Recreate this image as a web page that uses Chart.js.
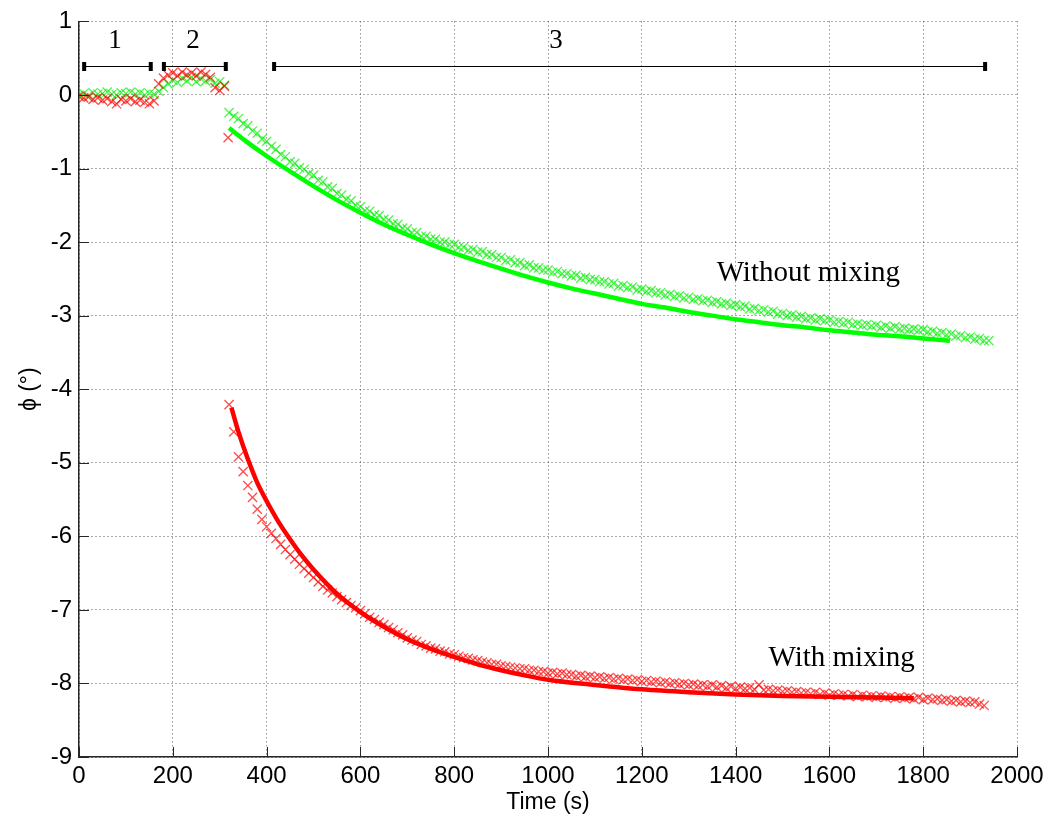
<!DOCTYPE html>
<html lang="en">
<head>
    <meta charset="UTF-8">
    <title>Phase angle vs time</title>
    <script src="https://cdn.jsdelivr.net/npm/chart.js@4.4.1/dist/chart.umd.min.js"></script>
    <style>
        body { margin: 0; background: #fff; }
        canvas { display: block; }
    </style>
</head>
<body>
<canvas id="myChart" width="1057" height="828"></canvas>

<script>
    // phases 1 and 2 (before the decay), sampled every 10 s
    var timeEarly = [0, 10, 20, 30, 40, 50, 60, 70, 80, 90, 100, 110, 120, 130, 140, 150,
      160, 170, 180, 190, 200, 210, 220, 230, 240, 250, 260, 270, 280, 290, 300, 310];
    var greenEarly = [0.00, 0.02, -0.01, 0.03, 0.01, 0.02, 0.04, 0.01, 0.00, 0.03, 0.02, 0.04, 0.01, 0.03, 0.00, 0.02,
      0.01, 0.05, 0.10, 0.15, 0.20, 0.17, 0.23, 0.19, 0.24, 0.18, 0.22, 0.19, 0.21, 0.16, 0.18, 0.13];
    var redEarly = [-0.02, -0.04, -0.03, -0.06, -0.04, -0.07, -0.05, -0.09, -0.12, -0.06, -0.08, -0.05, -0.09, -0.07, -0.10, -0.12,
      -0.08, 0.15, 0.23, 0.27, 0.30, 0.26, 0.31, 0.27, 0.30, 0.26, 0.31, 0.28, 0.24, 0.10, 0.06, 0.12];

    // phase 3
    var timeDecay = [320, 330, 340, 350, 360, 370, 380, 390, 400, 410,
      420, 430, 440, 450, 460, 470, 480, 490, 500, 510,
      520, 530, 540, 550, 560, 570, 580, 590, 600, 610,
      620, 630, 640, 650, 660, 670, 680, 690, 700, 710,
      720, 730, 740, 750, 760, 770, 780, 790, 800, 810,
      820, 830, 840, 850, 860, 870, 880, 890, 900, 910,
      920, 930, 940, 950, 960, 970, 980, 990, 1000, 1010,
      1020, 1030, 1040, 1050, 1060, 1070, 1080, 1090, 1100, 1110,
      1120, 1130, 1140, 1150, 1160, 1170, 1180, 1190, 1200, 1210,
      1220, 1230, 1240, 1250, 1260, 1270, 1280, 1290, 1300, 1310,
      1320, 1330, 1340, 1350, 1360, 1370, 1380, 1390, 1400, 1410,
      1420, 1430, 1440, 1450, 1460, 1470, 1480, 1490, 1500, 1510,
      1520, 1530, 1540, 1550, 1560, 1570, 1580, 1590, 1600, 1610,
      1620, 1630, 1640, 1650, 1660, 1670, 1680, 1690, 1700, 1710,
      1720, 1730, 1740, 1750, 1760, 1770, 1780, 1790, 1800, 1810,
      1820, 1830, 1840, 1850, 1860, 1870, 1880, 1890, 1900, 1910,
      1920, 1930, 1940];
    var greenDecay = [-0.24, -0.29, -0.32, -0.39, -0.42, -0.49, -0.52, -0.60, -0.63, -0.70,
      -0.74, -0.81, -0.84, -0.91, -0.93, -0.99, -1.01, -1.07, -1.09, -1.16,
      -1.18, -1.25, -1.27, -1.34, -1.36, -1.42, -1.44, -1.50, -1.52, -1.57,
      -1.58, -1.63, -1.64, -1.69, -1.70, -1.75, -1.76, -1.81, -1.82, -1.87,
      -1.87, -1.92, -1.92, -1.96, -1.96, -2.00, -2.00, -2.03, -2.03, -2.07,
      -2.07, -2.11, -2.10, -2.14, -2.13, -2.17, -2.17, -2.21, -2.21, -2.25,
      -2.24, -2.28, -2.28, -2.32, -2.31, -2.35, -2.35, -2.38, -2.38, -2.41,
      -2.40, -2.43, -2.43, -2.46, -2.45, -2.49, -2.48, -2.51, -2.51, -2.54,
      -2.54, -2.57, -2.56, -2.60, -2.59, -2.62, -2.61, -2.65, -2.64, -2.67,
      -2.66, -2.69, -2.69, -2.72, -2.71, -2.74, -2.73, -2.76, -2.75, -2.78,
      -2.77, -2.80, -2.79, -2.82, -2.81, -2.84, -2.83, -2.86, -2.85, -2.88,
      -2.87, -2.91, -2.90, -2.93, -2.92, -2.95, -2.94, -2.98, -2.97, -3.00,
      -2.99, -3.02, -3.01, -3.04, -3.03, -3.06, -3.04, -3.07, -3.06, -3.09,
      -3.08, -3.10, -3.09, -3.12, -3.11, -3.13, -3.12, -3.14, -3.13, -3.16,
      -3.14, -3.17, -3.15, -3.18, -3.17, -3.19, -3.18, -3.20, -3.19, -3.22,
      -3.21, -3.24, -3.23, -3.26, -3.25, -3.28, -3.27, -3.30, -3.29, -3.32,
      -3.31, -3.34, -3.34];
    var redDecay = [-4.21, -4.58, -4.92, -5.12, -5.31, -5.47, -5.63, -5.77, -5.87, -5.96,
      -6.03, -6.11, -6.18, -6.25, -6.31, -6.38, -6.44, -6.50, -6.56, -6.62,
      -6.68, -6.73, -6.77, -6.82, -6.86, -6.90, -6.94, -6.97, -7.01, -7.05,
      -7.10, -7.13, -7.17, -7.20, -7.24, -7.27, -7.31, -7.34, -7.38, -7.41,
      -7.43, -7.47, -7.49, -7.52, -7.53, -7.56, -7.57, -7.60, -7.61, -7.63,
      -7.65, -7.66, -7.68, -7.69, -7.71, -7.72, -7.74, -7.74, -7.76, -7.77,
      -7.78, -7.79, -7.80, -7.80, -7.82, -7.82, -7.84, -7.84, -7.86, -7.85,
      -7.87, -7.86, -7.88, -7.88, -7.90, -7.89, -7.91, -7.90, -7.92, -7.91,
      -7.93, -7.92, -7.94, -7.93, -7.95, -7.94, -7.96, -7.95, -7.97, -7.96,
      -7.98, -7.97, -7.99, -7.98, -8.00, -7.99, -8.01, -8.00, -8.02, -8.01,
      -8.03, -8.02, -8.04, -8.02, -8.05, -8.03, -8.06, -8.04, -8.07, -8.05,
      -8.07, -8.06, -8.08, -8.02, -8.09, -8.08, -8.10, -8.09, -8.11, -8.10,
      -8.12, -8.11, -8.13, -8.12, -8.14, -8.12, -8.15, -8.13, -8.16, -8.14,
      -8.16, -8.15, -8.17, -8.15, -8.18, -8.16, -8.18, -8.17, -8.19, -8.17,
      -8.19, -8.18, -8.20, -8.18, -8.20, -8.19, -8.21, -8.19, -8.22, -8.20,
      -8.22, -8.21, -8.23, -8.22, -8.24, -8.23, -8.25, -8.24, -8.26, -8.25,
      -8.28, -8.30, null];

    // stray red point at the start of phase 3
    var redOutlierTime = [318];
    var redOutlier = [-0.58];

    // fitted curves
    var fitGreenTime = [320, 350, 400, 450, 500, 550, 600, 650, 700, 750, 800, 850, 900, 950, 1000, 1050,
      1100, 1150, 1200, 1250, 1300, 1350, 1400, 1450, 1500, 1550, 1600, 1650, 1700, 1750, 1800, 1857];
    var fitGreen = [-0.45, -0.60, -0.83, -1.04, -1.24, -1.43, -1.60, -1.76, -1.90, -2.03, -2.15, -2.26, -2.36, -2.46, -2.55, -2.63,
      -2.70, -2.77, -2.84, -2.89, -2.95, -3.00, -3.05, -3.09, -3.13, -3.16, -3.20, -3.23, -3.26, -3.28, -3.31, -3.34];
    var fitRedTime = [325, 340, 360, 380, 400, 425, 450, 475, 500, 550, 600, 650, 700, 750, 800, 850,
      900, 950, 1000, 1100, 1200, 1300, 1400, 1500, 1600, 1700, 1780];
    var fitRed = [-4.25, -4.58, -4.95, -5.27, -5.52, -5.80, -6.04, -6.26, -6.45, -6.78, -7.03, -7.23, -7.40, -7.53, -7.64, -7.74,
      -7.82, -7.89, -7.95, -8.02, -8.08, -8.12, -8.15, -8.17, -8.18, -8.19, -8.20];

    // experiment phases
    var phaseLabels = ["1", "2", "3"];
    var phaseStart = [11, 181, 416];
    var phaseEnd = [153, 313, 1932];

    var xTicks = [0, 200, 400, 600, 800, 1000, 1200, 1400, 1600, 1800, 2000];
    var yTicks = [-9, -8, -7, -6, -5, -4, -3, -2, -1, 0, 1];

    function pts(xs, ys) {
      return xs.map(function (t, i) { return { x: t, y: ys[i] }; });
    }

    var sansFont = "'Liberation Sans', Arial, Helvetica, sans-serif";
    var serifFont = "'Liberation Serif', 'Times New Roman', serif";

    // inward ticks, phase bars and text labels
    var overlay = {
      id: 'overlay',
      afterDatasetsDraw: function (chart) {
        var ctx = chart.ctx, area = chart.chartArea;
        var xs = chart.scales.x, ys = chart.scales.y;
        ctx.save();
        ctx.strokeStyle = '#262626';
        ctx.lineWidth = 1;
        xTicks.forEach(function (v) {
          var px = Math.round(xs.getPixelForValue(v)) + 0.5;
          ctx.beginPath();
          ctx.moveTo(px, area.bottom);
          ctx.lineTo(px, area.bottom - 10);
          ctx.stroke();
        });
        yTicks.forEach(function (v) {
          var py = Math.round(ys.getPixelForValue(v)) + 0.5;
          ctx.beginPath();
          ctx.moveTo(area.left, py);
          ctx.lineTo(area.left + 10, py);
          ctx.stroke();
        });

        // phase bars
        var barY = Math.round(ys.getPixelForValue(0.4)) + 0.5;
        var labelT = [77, 243, 1017];
        ctx.strokeStyle = '#000';
        ctx.fillStyle = '#000';
        ctx.lineWidth = 1.2;
        for (var i = 0; i < phaseLabels.length; i++) {
          var x1 = xs.getPixelForValue(phaseStart[i]);
          var x2 = xs.getPixelForValue(phaseEnd[i]);
          ctx.beginPath();
          ctx.moveTo(x1, barY);
          ctx.lineTo(x2, barY);
          ctx.stroke();
          ctx.fillRect(x1 - 2, barY - 4.5, 4, 9);
          ctx.fillRect(x2 - 2, barY - 4.5, 4, 9);
          ctx.font = '27px ' + serifFont;
          ctx.textAlign = 'center';
          ctx.textBaseline = 'alphabetic';
          ctx.fillText(phaseLabels[i], xs.getPixelForValue(labelT[i]), ys.getPixelForValue(0.64));
        }

        ctx.font = '29px ' + serifFont;
        ctx.textAlign = 'center';
        ctx.fillText('Without mixing', xs.getPixelForValue(1555), ys.getPixelForValue(-2.53));
        ctx.fillText('With mixing', xs.getPixelForValue(1626), ys.getPixelForValue(-7.76));
        ctx.restore();
      }
    };

    var ctx = document.getElementById('myChart').getContext('2d');

    var myChart = new Chart(ctx, {
      type: 'scatter',
      data: {
        datasets: [
          {
            label: 'Fit without mixing',
            data: pts(fitGreenTime, fitGreen),
            showLine: true,
            borderColor: '#00ff00',
            borderWidth: 4.5,
            pointRadius: 0,
            cubicInterpolationMode: 'monotone',
            order: 0
          },
          {
            label: 'Fit with mixing',
            data: pts(fitRedTime, fitRed),
            showLine: true,
            borderColor: '#ff0000',
            borderWidth: 4.5,
            pointRadius: 0,
            cubicInterpolationMode: 'monotone',
            order: 0
          },
          {
            label: 'Without mixing',
            data: pts(timeEarly, greenEarly).concat(pts(timeDecay, greenDecay)),
            pointStyle: 'crossRot',
            pointRadius: 6.5,
            borderWidth: 1.3,
            borderColor: 'rgba(0, 240, 0, 0.7)',
            backgroundColor: 'rgba(0, 240, 0, 0.7)',
            order: 2
          },
          {
            label: 'With mixing',
            data: pts(timeEarly, redEarly).concat(pts(timeDecay, redDecay), pts(redOutlierTime, redOutlier)),
            pointStyle: 'crossRot',
            pointRadius: 6.5,
            borderWidth: 1.3,
            borderColor: 'rgba(255, 0, 0, 0.7)',
            backgroundColor: 'rgba(255, 0, 0, 0.7)',
            order: 1
          }
        ]
      },
      options: {
        responsive: false,
        animation: false,
        layout: { padding: { top: 17, right: 40, left: 0, bottom: 0 } },
        plugins: {
          legend: { display: false },
          tooltip: { enabled: false }
        },
        scales: {
          x: {
            type: 'linear',
            min: 0,
            max: 2000,
            afterBuildTicks: function (s) { s.ticks = xTicks.map(function (v) { return { value: v }; }); },
            afterFit: function (s) { s.height = 71; },
            ticks: {
              color: '#000',
              padding: 5,
              maxRotation: 0,
              autoSkip: false,
              font: { family: sansFont, size: 24 },
              callback: function (v) { return String(v); }
            },
            grid: { color: 'rgba(0,0,0,0.65)', lineWidth: 1, drawTicks: false },
            border: { display: true, color: '#262626', width: 1.5, dash: [1, 3] },
            title: {
              display: true,
              text: 'Time (s)',
              color: '#000',
              font: { family: sansFont, size: 23 },
              padding: { top: 0, bottom: 12 }
            }
          },
          y: {
            type: 'linear',
            min: -9,
            max: 1,
            afterBuildTicks: function (s) { s.ticks = yTicks.map(function (v) { return { value: v }; }); },
            afterFit: function (s) { s.width = 79; },
            ticks: {
              color: '#000',
              padding: 7,
              autoSkip: false,
              font: { family: sansFont, size: 24 },
              callback: function (v) { return String(v); }
            },
            grid: { color: 'rgba(0,0,0,0.65)', lineWidth: 1, drawTicks: false },
            border: { display: true, color: '#262626', width: 1.5, dash: [1, 3] },
            title: {
              display: true,
              text: 'ϕ (°)',
              color: '#000',
              font: { family: sansFont, size: 23 },
              padding: { top: 16, bottom: 0 }
            }
          }
        }
      },
      plugins: [overlay]
    });
</script>
</body>
</html>
